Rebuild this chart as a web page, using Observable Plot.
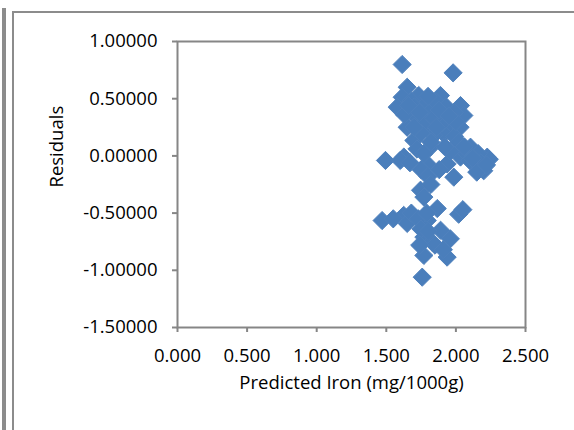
<!DOCTYPE html>
<html>
<head>
<meta charset="utf-8">
<script src="https://cdn.jsdelivr.net/npm/d3@7"></script>
<script src="https://cdn.jsdelivr.net/npm/@observablehq/plot@0.6"></script>
<style>
  html, body { margin: 0; padding: 0; background: #fff; }
  #wrap { position: relative; width: 574px; height: 430px; overflow: hidden; }
  #wrap svg { position: absolute; left: 0; top: 0; }
  .deco { position: absolute; background: #8c8c8c; pointer-events: none; }
</style>
</head>
<body>
<div id="wrap">
  <div class="deco" style="left:2px; top:8px; width:4px; height:430px;"></div>
  <div class="deco" style="left:12px; top:11px; width:2px; height:430px;"></div>
  <div class="deco" style="left:12px; top:11px; width:570px; height:2px;"></div>
</div>
<script>
const predicted = [
  1.614, 1.980, 1.650, 1.614, 1.578, 1.733, 1.889, 1.794, 1.698, 2.033,
  2.057, 1.650, 1.866, 1.960, 2.030, 1.794, 1.913, 1.698, 2.105, 2.225,
  1.817, 2.033, 1.494, 1.626, 1.794, 1.937, 2.128, 2.240, 1.680, 1.760,
  1.830, 1.860, 1.930, 1.990, 1.720, 1.780, 1.900, 1.630, 1.990, 2.020,
  1.840, 1.750, 1.720, 1.770, 2.080, 2.160, 2.180, 2.100, 2.200, 2.150,
  1.985, 1.600, 1.670, 1.750, 1.800, 1.746, 1.770, 1.820, 1.880, 1.960,
  2.000, 1.800, 1.700, 1.660, 1.740, 1.840, 1.880, 1.950, 1.700, 1.860,
  1.820, 1.920, 2.060, 2.120, 2.220,
  1.470, 1.625, 1.650, 1.866, 2.020, 1.794, 1.770, 1.960, 1.770, 1.937,
  1.758, 1.830, 1.890, 1.680, 1.730, 1.750, 1.800, 1.850, 1.910, 1.740,
  1.790, 1.550, 2.050
];
const residuals = [
  0.799, 0.726, 0.600, 0.513, 0.426, 0.528, 0.528, 0.455, 0.368, 0.440,
  0.353, 0.250, 0.338, 0.280, 0.250, 0.250, 0.193, 0.135, 0.076, -0.011,
  0.076, -0.010, -0.040, -0.010, -0.070, -0.070, -0.070, -0.030, 0.480, 0.420,
  0.400, 0.470, 0.430, 0.380, 0.330, 0.300, 0.290, 0.360, 0.170, 0.120,
  0.180, 0.200, 0.060, 0.020, 0.020, 0.020, -0.060, -0.040, -0.130, -0.142,
  -0.186, -0.040, -0.060, -0.120, -0.180, -0.300, -0.360, -0.250, -0.120, 0.040,
  0.300, 0.520, 0.430, 0.440, 0.380, 0.330, 0.400, 0.350, 0.250, 0.250,
  0.120, 0.080, 0.080, -0.020, -0.080,
  -0.565, -0.520, -0.590, -0.460, -0.510, -0.565, -0.710, -0.725, -0.870, -0.885,
  -1.060, -0.754, -0.650, -0.500, -0.550, -0.640, -0.660, -0.780, -0.820, -0.780,
  -0.500, -0.550, -0.470
];
const xTicks = [0, 0.5, 1.0, 1.5, 2.0, 2.5];
const yTicks = [-1.5, -1.0, -0.5, 0, 0.5, 1.0];
const xLabel = "Predicted Iron (mg/1000g)";
const yLabel = "Residuals";

const points = predicted.map((p, i) => ({p, r: residuals[i]}));
const axisGray = "#868686";
const hyphen = f => v => f(v).replace("\u2212", "-");

const chart = Plot.plot({
  width: 574,
  height: 430,
  marginLeft: 177,
  marginRight: 49,
  marginTop: 41,
  marginBottom: 103,
  style: {fontFamily: "'Open Sans', sans-serif", fontSize: "18.5px", color: "#000", background: "transparent", overflow: "visible"},
  x: {domain: [0, 2.5]},
  y: {domain: [-1.5, 1.0]},
  marks: [
    Plot.frame({stroke: axisGray, strokeWidth: 2}),
    Plot.axisX({ticks: xTicks, tickFormat: hyphen(d3.format(".3f")), tickSize: 5, tickPadding: 16, stroke: axisGray, strokeWidth: 2, fill: "#000", label: null}),
    Plot.axisY({ticks: yTicks, tickFormat: hyphen(d3.format(".5f")), tickSize: 5, tickPadding: 15, stroke: axisGray, strokeWidth: 2, fill: "#000", label: null}),
    Plot.dot(points, {x: "p", y: "r", symbol: "diamond2", r: 8.2, fill: "#4a7ebb", stroke: "#4f81bd", strokeWidth: 1}),
    Plot.text([xLabel], {text: d => d, frameAnchor: "bottom", dy: 61, fill: "#000"}),
    Plot.text([yLabel], {text: d => d, frameAnchor: "left", dx: -120, dy: 3, rotate: -90, fill: "#000"})
  ]
});
document.getElementById("wrap").appendChild(chart);
</script>
</body>
</html>
